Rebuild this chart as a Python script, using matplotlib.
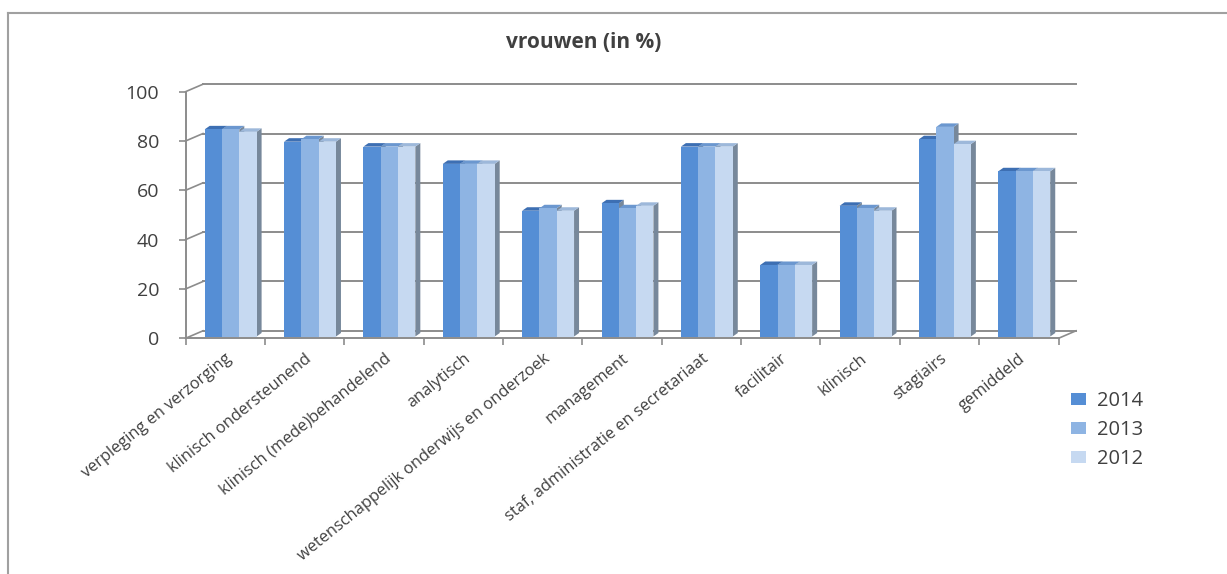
import matplotlib
matplotlib.use("Agg")
import matplotlib.pyplot as plt
from matplotlib.lines import Line2D
from matplotlib.patches import Patch, Polygon
from matplotlib.transforms import offset_copy

categories = [
    "verpleging en verzorging",
    "klinisch ondersteunend",
    "klinisch (mede)behandelend",
    "analytisch",
    "wetenschappelijk onderwijs en onderzoek",
    "management",
    "staf, administratie en secretariaat",
    "facilitair",
    "klinisch",
    "stagiairs",
    "gemiddeld",
]
years = ["2014", "2013", "2012"]
pct_2014 = [84, 79, 77, 70, 51, 54, 77, 29, 53, 80, 67]
pct_2013 = [84, 80, 77, 70, 52, 52, 77, 29, 52, 85, 67]
pct_2012 = [83, 79, 77, 70, 51, 53, 77, 29, 51, 78, 67]
yticks = [0, 20, 40, 60, 80, 100]

front_cols = ["#558ed5", "#8eb4e3", "#c6d9f1"]
top_cols = ["#3d6fb3", "#6b97cf", "#9db8da"]
side_col = "#77889b"
grid_col = "#8c8c8c"
text_col = "#404040"

plt.rcParams["font.family"] = ["Open Sans", "DejaVu Sans"]

W, H = 1227, 574
fig = plt.figure(figsize=(W / 100, H / 100), dpi=100)
x0, x1 = 185.5, 1058.5
y0, y1 = 338.3, 91.7
ax = fig.add_axes([x0 / W, 1 - y0 / H, (x1 - x0) / W, (y0 - y1) / H])
ax.set_xlim(-0.5, len(categories) - 0.5)
ax.set_ylim(0, 100)

# pixel -> data unit conversion for the fake 3D depth
px_x = (x1 - x0) / len(categories)
px_y = (y0 - y1) / 100
wall_dx, wall_dy = 17.5 / px_x, 7.5 / px_y
bar_dx, bar_dy = 5.0 / px_x, 3.5 / px_y

xl, xr = ax.get_xlim()
for v in yticks:
    ax.plot([xl + wall_dx, xr + wall_dx], [v + wall_dy] * 2, color=grid_col,
            lw=1.4, clip_on=False, zorder=1)
    ax.plot([xl, xl + wall_dx], [v, v + wall_dy], color=grid_col, lw=1.2,
            clip_on=False, zorder=1)
ax.plot([xr, xr + wall_dx], [0, wall_dy], color=grid_col, lw=1.2,
        clip_on=False, zorder=1)

# bars stand a little behind the front edge of the floor
bar_trans = offset_copy(ax.transData, fig=fig, x=1.5, y=1.8, units="dots")

bw = 17.3 / px_x
shift = 0.05
series = [pct_2014, pct_2013, pct_2012]
for j, vals in enumerate(series):
    pos = [i + shift + (j - 1) * bw for i in range(len(categories))]
    z = 3 + j
    for p, v in zip(pos, vals):
        l, r = p - bw / 2, p + bw / 2
        ax.add_patch(Polygon([(r, 0), (r, v), (r + bar_dx, v + bar_dy),
                              (r + bar_dx, bar_dy)], closed=True,
                             facecolor=side_col, edgecolor="none", zorder=z,
                             clip_on=False, transform=bar_trans))
        ax.add_patch(Polygon([(l, v), (r, v), (r + bar_dx, v + bar_dy),
                              (l + bar_dx, v + bar_dy)], closed=True,
                             facecolor=top_cols[j], edgecolor="none", zorder=z,
                             clip_on=False, transform=bar_trans))
    bars = ax.bar(pos, vals, width=bw, color=front_cols[j], zorder=z, clip_on=False)
    for b in bars:
        b.set_transform(bar_trans)

for s in ["top", "right"]:
    ax.spines[s].set_visible(False)
for s in ["left", "bottom"]:
    ax.spines[s].set_color(grid_col)
    ax.spines[s].set_linewidth(1.4)
    ax.spines[s].set_zorder(2)

ax.set_yticks(yticks)
ax.tick_params(axis="y", length=5, width=1.2, color=grid_col, pad=14,
               labelsize=14, labelcolor=text_col)
ax.set_xticks(range(len(categories)))
ax.set_xticklabels(categories, rotation=39, ha="right", rotation_mode="anchor",
                   fontsize=11.8, color=text_col)
ax.tick_params(axis="x", length=0, pad=9)
ax.set_xticks([i - 0.5 for i in range(len(categories) + 1)], minor=True)
ax.tick_params(axis="x", which="minor", length=5, width=1.2, color=grid_col)

handles = [Patch(facecolor=c, edgecolor="none") for c in front_cols]
fig.legend(handles, years, loc="upper left", bbox_to_anchor=(1053 / W, 1 - 373 / H),
           frameon=False, fontsize=14.5, handlelength=0.75, handleheight=0.55,
           handletextpad=0.55, labelspacing=0.45, labelcolor=text_col)

fig.text(584 / W, 1 - 42 / H, "vrouwen (in %)", ha="center", va="center",
         fontsize=15, fontweight="bold", color=text_col)

# chart area border (left and top edges)
fig.add_artist(Line2D([8 / W, 8 / W], [0, 1 - 12.7 / H], color="#a0a0a0", lw=1.5))
fig.add_artist(Line2D([8 / W, 1], [1 - 12.7 / H] * 2, color="#a0a0a0", lw=1.5))

fig.savefig("out.png", dpi=100)
